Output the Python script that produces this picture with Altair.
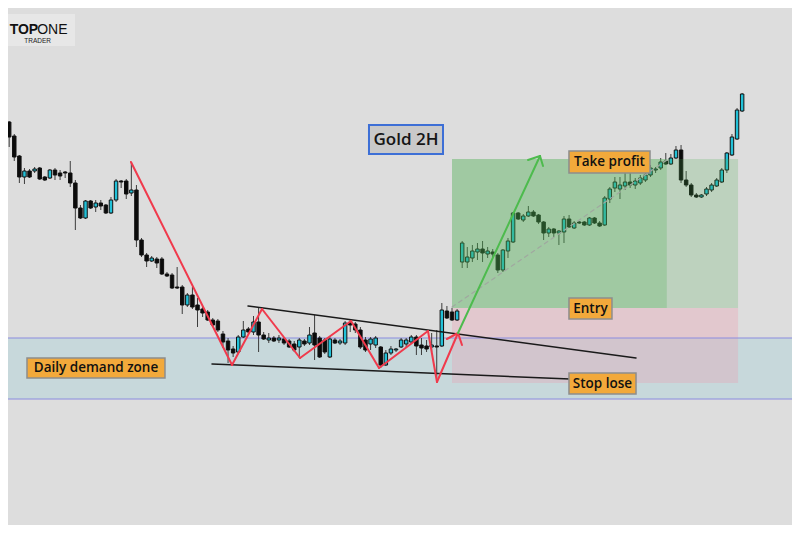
import altair as alt
import pandas as pd

# ---- candle data (price levels, higher = higher price) ----
opens = [492, 488, 478, 464, 444, 423, 429, 429, 432, 423, 422, 430, 427, 428, 427, 417, 392, 382, 399, 393,
         397, 395, 387, 400, 419, 419, 407, 410, 360, 345, 339, 341, 341, 326, 325, 313, 313, 295, 305, 295,
         291, 288, 280, 279, 266, 259, 251, 248, 263, 271, 268, 278, 265, 260, 262, 260, 261, 259, 256, 253,
         259, 257, 267, 262, 260, 243, 260, 257, 257, 277, 276, 270, 260, 256, 255, 253, 235, 247, 250, 253,
         256, 258, 263, 255, 254, 253, 254, 254, 289, 288, 280, 338, 338, 342, 348, 351, 346, 348, 345, 330,
         349, 358, 387, 380, 384, 388, 385, 378, 367, 371, 367, 368, 381, 372, 378, 378, 375, 382, 377, 375,
         401, 412, 411, 414, 418, 415, 417, 420, 425, 430, 432, 439, 436, 442, 450, 420, 415, 405, 403, 406,
         410, 414, 418, 430, 445, 461, 489]
highs = [494, 490, 479, 466, 445, 432, 431, 433, 433, 424, 431, 432, 430, 429, 439, 420, 395, 400, 400, 400,
         400, 396, 403, 421, 420, 421, 438, 415, 362, 347, 344, 343, 343, 328, 327, 333, 315, 307, 313, 302,
         294, 290, 282, 281, 269, 262, 254, 265, 279, 273, 284, 292, 268, 267, 264, 265, 263, 261, 259, 262,
         261, 273, 285, 264, 262, 264, 262, 261, 279, 280, 278, 273, 263, 263, 264, 254, 250, 254, 252, 262,
         262, 265, 265, 262, 260, 267, 270, 297, 294, 292, 291, 359, 353, 355, 357, 359, 353, 351, 347, 351,
         362, 388, 388, 386, 394, 390, 386, 379, 373, 372, 370, 384, 385, 379, 379, 379, 383, 383, 379, 404,
         413, 423, 423, 428, 433, 422, 425, 428, 435, 433, 442, 447, 446, 454, 455, 429, 417, 407, 406, 413,
         417, 422, 432, 448, 466, 492, 507]
lows = [485, 477, 453, 439, 417, 416, 422, 427, 420, 419, 421, 420, 420, 422, 413, 370, 381, 381, 391, 388,
        390, 386, 386, 398, 412, 401, 404, 353, 343, 333, 338, 332, 325, 323, 311, 311, 286, 293, 291, 273,
        283, 279, 273, 268, 252, 237, 243, 247, 262, 265, 265, 248, 260, 257, 258, 257, 255, 252, 248, 242,
        254, 255, 240, 242, 246, 242, 256, 255, 255, 268, 267, 251, 248, 250, 252, 232, 234, 245, 248, 252,
        253, 256, 245, 245, 248, 248, 220, 253, 281, 279, 279, 332, 332, 338, 340, 338, 342, 343, 327, 328,
        342, 357, 380, 378, 383, 383, 376, 360, 363, 363, 355, 357, 372, 371, 376, 374, 374, 376, 373, 374,
        397, 408, 401, 410, 412, 411, 415, 418, 423, 427, 430, 435, 435, 441, 417, 413, 403, 402, 402, 404,
        408, 413, 417, 427, 444, 460, 488]
closes = [487, 478, 463, 443, 423, 429, 423, 431, 421, 420, 430, 425, 424, 427, 417, 392, 382, 399, 392, 397,
          394, 387, 400, 419, 418, 406, 410, 360, 345, 339, 342, 337, 326, 324, 312, 312, 295, 305, 293, 290,
          287, 280, 275, 270, 258, 250, 247, 263, 270, 268, 278, 265, 261, 262, 259, 262, 257, 253, 250, 260,
          256, 265, 255, 243, 248, 261, 257, 259, 277, 275, 270, 253, 250, 261, 262, 235, 247, 251, 251, 260,
          260, 263, 254, 252, 251, 255, 253, 290, 282, 280, 289, 357, 343, 349, 351, 347, 349, 346, 330, 350,
          359, 387, 381, 384, 388, 384, 378, 367, 371, 367, 369, 381, 373, 377, 377, 375, 382, 377, 374, 402,
          411, 418, 415, 418, 415, 419, 422, 425, 432, 431, 438, 436, 442, 450, 420, 415, 405, 403, 405, 411,
          415, 420, 430, 447, 463, 490, 506]

# ---- zones ----
zone_names = ["Daily demand zone", "Stop zone", "Profit reached", "Profit open"]
zone_x0 = [-5, 89, 89, 131.2]
zone_x1 = [165, 145.2, 131.2, 145.2]
zone_p0 = [201, 217, 292, 292]
zone_p1 = [262, 292, 441, 441]
zone_fill = ["#9fcfd6", "#f095aa", "#4caf50", "#4caf50"]
zone_opacity = [0.35, 0.28, 0.42, 0.22]

# ---- line segments ----
red_pts_i = [25.93, 45.78, 51.67, 59.14, 69.16, 74.66, 84.28, 86.05, 90.18]
red_pts_p = [438, 235, 291, 242, 279, 232, 269, 218, 267]
red_head_i = [88.0, 90.96]
red_head_p = [261, 255]
green_arrow_i = [90.18, 106.29]
green_arrow_p = [267, 444]
green_head_i = [103.93, 106.88]
green_head_p = [440, 434]
channel_i0 = [48.92, 41.85]
channel_p0 = [294, 236]
channel_i1 = [125.15, 112.18]
channel_p1 = [242, 221]
dash_i = [89.0, 131.2]
dash_p = [293, 440]
demand_edges = [262, 201]

# ---- labels ----
lab_text = ["Take profit", "Entry", "Stop lose", "Daily demand zone"]
lab_x0 = [111.98, 111.98, 111.98, 5.5]
lab_x1 = [127.9, 120.43, 125.15, 32.61]
lab_p0 = [427, 281, 206, 222]
lab_p1 = [449, 302, 227, 242]
title_text = "Gold 2H"
title_box = [72.69, 87.23, 446, 475]

BG = "#dddddd"
W, H = 784, 517
xs = alt.Scale(domain=[1.768, 155.796], nice=False, zero=False)
ys = alt.Scale(domain=[75, 592], nice=False, zero=False)

n = len(opens)
candles = pd.DataFrame({"i": list(range(n)), "open": opens, "high": highs,
                        "low": lows, "close": closes})
candles["dir"] = ["up" if c > o else "down" for o, c in zip(opens, closes)]

zones = pd.DataFrame({"name": zone_names, "x0": zone_x0, "x1": zone_x1,
                      "p0": zone_p0, "p1": zone_p1, "fill": zone_fill, "op": zone_opacity})

def X(f):
    return alt.X(f, type="quantitative", scale=xs, axis=None)

def Y(f):
    return alt.Y(f, type="quantitative", scale=ys, axis=None)

def zone_layer(names):
    return alt.Chart(zones).transform_filter(
        alt.FieldOneOfPredicate(field="name", oneOf=names)
    ).mark_rect(clip=True).encode(
        x=X("x0"), x2="x1", y=Y("p0"), y2="p1",
        fill=alt.Fill("fill:N", scale=None), opacity=alt.Opacity("op:Q", scale=None))

demand = zone_layer(["Daily demand zone"])
stopz = zone_layer(["Stop zone"])
greens = zone_layer(["Profit reached", "Profit open"])

edges = alt.Chart(pd.DataFrame({"p": demand_edges})).mark_rule(
    color="#8b8be0", strokeWidth=1.2).encode(y=Y("p"))

cbase = alt.Chart(candles)
wicks = cbase.mark_rule(color="#3c3c3c", strokeWidth=1, clip=True).encode(
    x=X("i"), y=Y("low"), y2="high")
bodies = cbase.transform_calculate(xl="datum.i - 0.34", xr="datum.i + 0.34").mark_rect(
    stroke="#111111", strokeWidth=1, clip=True).encode(
    x=X("xl"), x2="xr", y=Y("open"), y2="close",
    fill=alt.Fill("dir:N", scale=alt.Scale(domain=["up", "down"], range=["#22c1d8", "#0b0b0b"]),
                  legend=None))

def seg_df(i0, p0, i1, p1):
    return pd.DataFrame({"i0": i0, "p0": p0, "i1": i1, "p1": p1})

def seg_layer(df, color, width, dash=None):
    kw = dict(color=color, strokeWidth=width, clip=True, strokeCap="round")
    if dash:
        kw["strokeDash"] = dash
    return alt.Chart(df).mark_rule(**kw).encode(x=X("i0"), y=Y("p0"), x2="i1", y2="p1")

red_df = seg_df(red_pts_i[:-1], red_pts_p[:-1], red_pts_i[1:], red_pts_p[1:])
red_head_df = seg_df(red_head_i, red_head_p, [red_pts_i[-1]] * 2, [red_pts_p[-1]] * 2)
green_df = seg_df([green_arrow_i[0]], [green_arrow_p[0]], [green_arrow_i[1]], [green_arrow_p[1]])
green_head_df = seg_df(green_head_i, green_head_p, [green_arrow_i[1]] * 2, [green_arrow_p[1]] * 2)
chan_df = seg_df(channel_i0, channel_p0, channel_i1, channel_p1)
dash_df = seg_df([dash_i[0]], [dash_p[0]], [dash_i[1]], [dash_p[1]])

dashed = seg_layer(dash_df, "#a0a8a0", 1.2, [4, 4])
channel = seg_layer(chan_df, "#1a1a1a", 1.5)
red = seg_layer(red_df, "#f03a4c", 2)
red_head = seg_layer(red_head_df, "#f03a4c", 2)
green = seg_layer(green_df, "#4dbb4d", 2)
green_head = seg_layer(green_head_df, "#4dbb4d", 2)

labels = pd.DataFrame({"text": lab_text, "x0": lab_x0, "x1": lab_x1, "p0": lab_p0, "p1": lab_p1})
labels["xm"] = [(a + b) / 2 for a, b in zip(lab_x0, lab_x1)]
labels["pm"] = [(a + b) / 2 for a, b in zip(lab_p0, lab_p1)]
lab_boxes = alt.Chart(labels).mark_rect(fill="#f2a93b", stroke="#8d8d8d", strokeWidth=1.5).encode(
    x=X("x0"), x2="x1", y=Y("p0"), y2="p1")
lab_texts = alt.Chart(labels).mark_text(font="Open Sans", fontSize=13.5, fontWeight=600,
                                        color="#111111", baseline="middle", align="center").encode(
    x=X("xm"), y=Y("pm"), text="text:N")

title_df = pd.DataFrame({"text": [title_text], "x0": [title_box[0]], "x1": [title_box[1]],
                         "p0": [title_box[2]], "p1": [title_box[3]],
                         "xm": [(title_box[0] + title_box[1]) / 2],
                         "pm": [(title_box[2] + title_box[3]) / 2]})
title_box_l = alt.Chart(title_df).mark_rect(fill="#c9c9c9", stroke="#3d6fd6", strokeWidth=2).encode(
    x=X("x0"), x2="x1", y=Y("p0"), y2="p1")
title_txt = alt.Chart(title_df).mark_text(font="Open Sans", fontSize=17, fontWeight=600,
                                          color="#151515", baseline="middle", align="center").encode(
    x=X("xm"), y=Y("pm"), text="text:N")

# logo
logo_df = pd.DataFrame({"x0": [0.79], "x1": [14.93], "p0": [554], "p1": [586]})
logo_box = alt.Chart(logo_df).mark_rect(fill="#e7e7e7", clip=True).encode(
    x=X("x0"), x2="x1", y=Y("p0"), y2="p1")
logo_words = pd.DataFrame({"text": ["TOP", "ONE", "TRADER"], "i": [7.7, 7.5, 7.6],
                           "p": [570, 570, 559]})
logo_top = alt.Chart(logo_words.iloc[[0]]).mark_text(font="Liberation Sans", fontSize=14,
                                                     fontWeight="bold", align="right",
                                                     baseline="middle", color="#111").encode(
    x=X("i"), y=Y("p"), text="text:N")
logo_one = alt.Chart(logo_words.iloc[[1]]).mark_text(font="Liberation Sans", fontSize=14,
                                                     align="left", baseline="middle",
                                                     color="#111").encode(
    x=X("i"), y=Y("p"), text="text:N")
logo_trader = alt.Chart(logo_words.iloc[[2]]).mark_text(font="Liberation Sans", fontSize=6.5,
                                                        align="center", baseline="middle",
                                                        color="#222").encode(
    x=X("i"), y=Y("p"), text="text:N")

chart = alt.layer(
    demand, stopz, edges, wicks, bodies, greens, dashed, channel, red, red_head,
    green, green_head, lab_boxes, lab_texts, title_box_l, title_txt,
    logo_box, logo_top, logo_one, logo_trader
).properties(
    width=W, height=H, background=BG, padding=0, autosize="none"
).configure_view(stroke=None)

chart.save("out.html", embed_options={"renderer": "svg", "actions": False})
